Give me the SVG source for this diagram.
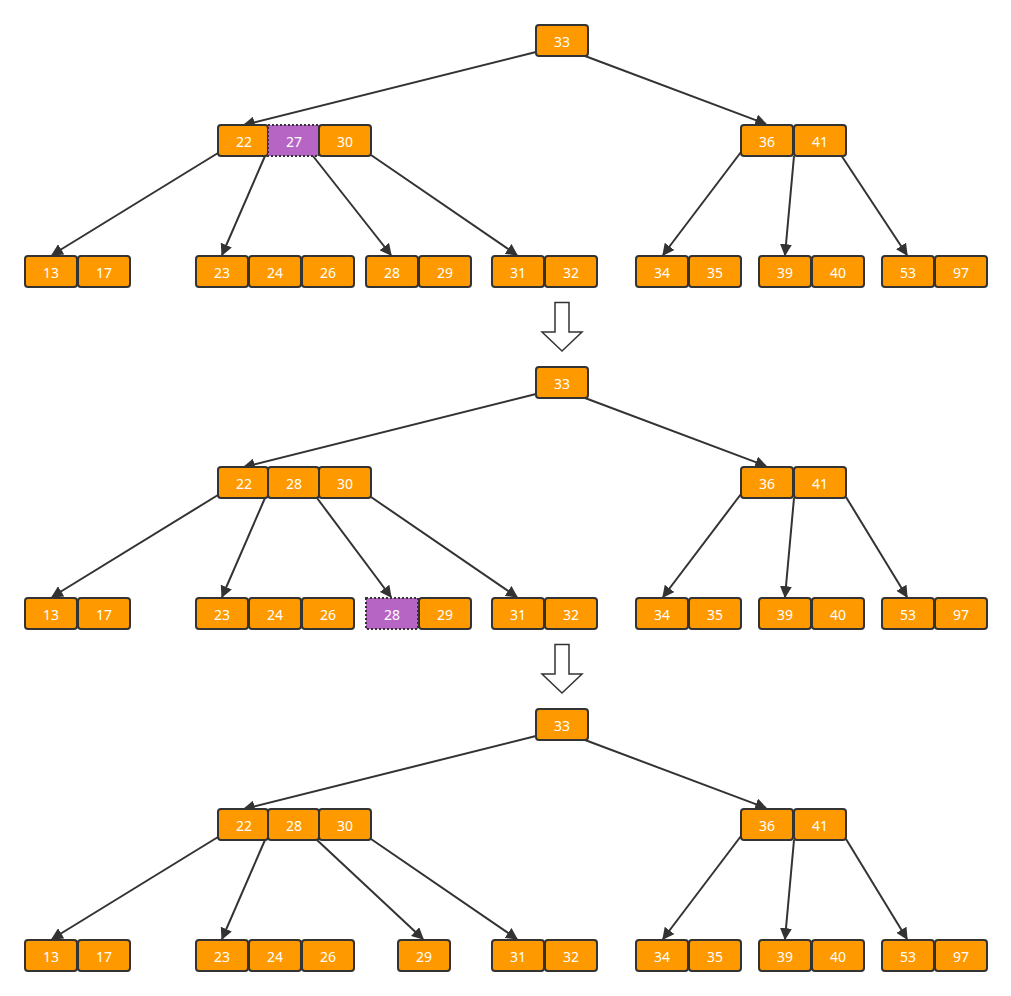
<svg xmlns="http://www.w3.org/2000/svg" width="1011" height="996" viewBox="0 0 1011 996">
<style>
.b{fill:#ff9900;stroke:#333;stroke-width:2}
.p{fill:#b665c4;stroke:#333;stroke-width:2;stroke-dasharray:2 2}
.t{fill:#fff;font-family:"Noto Sans","Liberation Sans",sans-serif;font-size:14px;text-anchor:middle;dominant-baseline:central}
.e{stroke:#333;stroke-width:2;fill:none;marker-end:url(#a)}
.h{fill:#fff;stroke:#333;stroke-width:1.5}
</style>
<defs>
<marker id="a" viewBox="0 0 10 10" refX="9" refY="5" markerWidth="6" markerHeight="6" orient="auto" markerUnits="strokeWidth">
<path d="M0,0 L10,5 L0,10 z" fill="#333"/>
</marker>
</defs>
<rect width="1011" height="996" fill="#fff"/>
<g id="connectors">
<g id="c1">
<line class="e" x1="536" y1="52" x2="244" y2="125"/>
<line class="e" x1="585" y1="56" x2="766" y2="124"/>
<line class="e" x1="218" y1="153" x2="52" y2="255"/>
<line class="e" x1="265" y1="156" x2="222" y2="255"/>
<line class="e" x1="313" y1="156" x2="391" y2="255"/>
<line class="e" x1="371" y1="155" x2="517" y2="255"/>
<line class="e" x1="741" y1="152" x2="663" y2="255"/>
<line class="e" x1="794" y1="156" x2="785" y2="255"/>
<line class="e" x1="841" y1="155" x2="907" y2="255"/>
</g>
<g id="c2">
<line class="e" x1="536" y1="394" x2="244" y2="467"/>
<line class="e" x1="585" y1="398" x2="766" y2="466"/>
<line class="e" x1="218" y1="495" x2="52" y2="597"/>
<line class="e" x1="265" y1="498" x2="222" y2="597"/>
<line class="e" x1="317" y1="498" x2="391" y2="597"/>
<line class="e" x1="371" y1="497" x2="517" y2="597"/>
<line class="e" x1="741" y1="494" x2="663" y2="597"/>
<line class="e" x1="794" y1="498" x2="785" y2="597"/>
<line class="e" x1="846" y1="497" x2="907" y2="597"/>
</g>
<g id="c3">
<line class="e" x1="536" y1="736" x2="244" y2="809"/>
<line class="e" x1="585" y1="740" x2="766" y2="808"/>
<line class="e" x1="218" y1="837" x2="52" y2="939"/>
<line class="e" x1="265" y1="840" x2="222" y2="939"/>
<line class="e" x1="317" y1="840" x2="423" y2="939"/>
<line class="e" x1="371" y1="839" x2="517" y2="939"/>
<line class="e" x1="741" y1="836" x2="663" y2="939"/>
<line class="e" x1="794" y1="840" x2="785" y2="939"/>
<line class="e" x1="846" y1="839" x2="907" y2="939"/>
</g>
</g>
<g id="arrow1"><path class="h" d="M555,302.5 H569 V332 H582 L562,351 L542,332 H555 Z"/></g>
<g id="arrow2"><path class="h" d="M555,644.5 H569 V674 H582 L562,693 L542,674 H555 Z"/></g>

<g id="tree1">
<g id="t1-root"><rect class="b" x="536" y="25" width="52" height="31" rx="3"/><text class="t" x="562" y="41">33</text></g>
<g id="t1-n22"><rect class="b" x="218" y="125" width="50" height="31" rx="3"/><text class="t" x="244" y="141">22</text></g>
<g id="t1-n27"><rect class="p" x="268" y="125" width="51" height="31"/><text class="t" x="294" y="141">27</text></g>
<g id="t1-n30"><rect class="b" x="319" y="125" width="52" height="31" rx="3"/><text class="t" x="345" y="141">30</text></g>
<g id="t1-n36"><rect class="b" x="741" y="125" width="52" height="31" rx="3"/><text class="t" x="767" y="141">36</text></g>
<g id="t1-n41"><rect class="b" x="794" y="125" width="52" height="31" rx="3"/><text class="t" x="820" y="141">41</text></g>
<g id="t1-l13"><rect class="b" x="25" y="256" width="52" height="31" rx="3"/><text class="t" x="51" y="272">13</text></g>
<g id="t1-l17"><rect class="b" x="78" y="256" width="52" height="31" rx="3"/><text class="t" x="104" y="272">17</text></g>
<g id="t1-l23"><rect class="b" x="196" y="256" width="52" height="31" rx="3"/><text class="t" x="222" y="272">23</text></g>
<g id="t1-l24"><rect class="b" x="249" y="256" width="52" height="31" rx="3"/><text class="t" x="275" y="272">24</text></g>
<g id="t1-l26"><rect class="b" x="302" y="256" width="52" height="31" rx="3"/><text class="t" x="328" y="272">26</text></g>
<g id="t1-l28"><rect class="b" x="366" y="256" width="52" height="31" rx="3"/><text class="t" x="392" y="272">28</text></g>
<g id="t1-l29"><rect class="b" x="419" y="256" width="52" height="31" rx="3"/><text class="t" x="445" y="272">29</text></g>
<g id="t1-l31"><rect class="b" x="492" y="256" width="52" height="31" rx="3"/><text class="t" x="518" y="272">31</text></g>
<g id="t1-l32"><rect class="b" x="545" y="256" width="52" height="31" rx="3"/><text class="t" x="571" y="272">32</text></g>
<g id="t1-l34"><rect class="b" x="636" y="256" width="52" height="31" rx="3"/><text class="t" x="662" y="272">34</text></g>
<g id="t1-l35"><rect class="b" x="689" y="256" width="52" height="31" rx="3"/><text class="t" x="715" y="272">35</text></g>
<g id="t1-l39"><rect class="b" x="759" y="256" width="52" height="31" rx="3"/><text class="t" x="785" y="272">39</text></g>
<g id="t1-l40"><rect class="b" x="812" y="256" width="52" height="31" rx="3"/><text class="t" x="838" y="272">40</text></g>
<g id="t1-l53"><rect class="b" x="882" y="256" width="52" height="31" rx="3"/><text class="t" x="908" y="272">53</text></g>
<g id="t1-l97"><rect class="b" x="935" y="256" width="52" height="31" rx="3"/><text class="t" x="961" y="272">97</text></g>
</g>

<g id="tree2">
<g id="t2-root"><rect class="b" x="536" y="367" width="52" height="31" rx="3"/><text class="t" x="562" y="383">33</text></g>
<g id="t2-n22"><rect class="b" x="218" y="467" width="50" height="31" rx="3"/><text class="t" x="244" y="483">22</text></g>
<g id="t2-n28"><rect class="b" x="268" y="467" width="51" height="31" rx="3"/><text class="t" x="294" y="483">28</text></g>
<g id="t2-n30"><rect class="b" x="319" y="467" width="52" height="31" rx="3"/><text class="t" x="345" y="483">30</text></g>
<g id="t2-n36"><rect class="b" x="741" y="467" width="52" height="31" rx="3"/><text class="t" x="767" y="483">36</text></g>
<g id="t2-n41"><rect class="b" x="794" y="467" width="52" height="31" rx="3"/><text class="t" x="820" y="483">41</text></g>
<g id="t2-l13"><rect class="b" x="25" y="598" width="52" height="31" rx="3"/><text class="t" x="51" y="614">13</text></g>
<g id="t2-l17"><rect class="b" x="78" y="598" width="52" height="31" rx="3"/><text class="t" x="104" y="614">17</text></g>
<g id="t2-l23"><rect class="b" x="196" y="598" width="52" height="31" rx="3"/><text class="t" x="222" y="614">23</text></g>
<g id="t2-l24"><rect class="b" x="249" y="598" width="52" height="31" rx="3"/><text class="t" x="275" y="614">24</text></g>
<g id="t2-l26"><rect class="b" x="302" y="598" width="52" height="31" rx="3"/><text class="t" x="328" y="614">26</text></g>
<g id="t2-l28"><rect class="p" x="366" y="598" width="52" height="31"/><text class="t" x="392" y="614">28</text></g>
<g id="t2-l29"><rect class="b" x="419" y="598" width="52" height="31" rx="3"/><text class="t" x="445" y="614">29</text></g>
<g id="t2-l31"><rect class="b" x="492" y="598" width="52" height="31" rx="3"/><text class="t" x="518" y="614">31</text></g>
<g id="t2-l32"><rect class="b" x="545" y="598" width="52" height="31" rx="3"/><text class="t" x="571" y="614">32</text></g>
<g id="t2-l34"><rect class="b" x="636" y="598" width="52" height="31" rx="3"/><text class="t" x="662" y="614">34</text></g>
<g id="t2-l35"><rect class="b" x="689" y="598" width="52" height="31" rx="3"/><text class="t" x="715" y="614">35</text></g>
<g id="t2-l39"><rect class="b" x="759" y="598" width="52" height="31" rx="3"/><text class="t" x="785" y="614">39</text></g>
<g id="t2-l40"><rect class="b" x="812" y="598" width="52" height="31" rx="3"/><text class="t" x="838" y="614">40</text></g>
<g id="t2-l53"><rect class="b" x="882" y="598" width="52" height="31" rx="3"/><text class="t" x="908" y="614">53</text></g>
<g id="t2-l97"><rect class="b" x="935" y="598" width="52" height="31" rx="3"/><text class="t" x="961" y="614">97</text></g>
</g>

<g id="tree3">
<g id="t3-root"><rect class="b" x="536" y="709" width="52" height="31" rx="3"/><text class="t" x="562" y="725">33</text></g>
<g id="t3-n22"><rect class="b" x="218" y="809" width="50" height="31" rx="3"/><text class="t" x="244" y="825">22</text></g>
<g id="t3-n28"><rect class="b" x="268" y="809" width="51" height="31" rx="3"/><text class="t" x="294" y="825">28</text></g>
<g id="t3-n30"><rect class="b" x="319" y="809" width="52" height="31" rx="3"/><text class="t" x="345" y="825">30</text></g>
<g id="t3-n36"><rect class="b" x="741" y="809" width="52" height="31" rx="3"/><text class="t" x="767" y="825">36</text></g>
<g id="t3-n41"><rect class="b" x="794" y="809" width="52" height="31" rx="3"/><text class="t" x="820" y="825">41</text></g>
<g id="t3-l13"><rect class="b" x="25" y="940" width="52" height="31" rx="3"/><text class="t" x="51" y="956">13</text></g>
<g id="t3-l17"><rect class="b" x="78" y="940" width="52" height="31" rx="3"/><text class="t" x="104" y="956">17</text></g>
<g id="t3-l23"><rect class="b" x="196" y="940" width="52" height="31" rx="3"/><text class="t" x="222" y="956">23</text></g>
<g id="t3-l24"><rect class="b" x="249" y="940" width="52" height="31" rx="3"/><text class="t" x="275" y="956">24</text></g>
<g id="t3-l26"><rect class="b" x="302" y="940" width="52" height="31" rx="3"/><text class="t" x="328" y="956">26</text></g>
<g id="t3-l29"><rect class="b" x="398" y="940" width="52" height="31" rx="3"/><text class="t" x="424" y="956">29</text></g>
<g id="t3-l31"><rect class="b" x="492" y="940" width="52" height="31" rx="3"/><text class="t" x="518" y="956">31</text></g>
<g id="t3-l32"><rect class="b" x="545" y="940" width="52" height="31" rx="3"/><text class="t" x="571" y="956">32</text></g>
<g id="t3-l34"><rect class="b" x="636" y="940" width="52" height="31" rx="3"/><text class="t" x="662" y="956">34</text></g>
<g id="t3-l35"><rect class="b" x="689" y="940" width="52" height="31" rx="3"/><text class="t" x="715" y="956">35</text></g>
<g id="t3-l39"><rect class="b" x="759" y="940" width="52" height="31" rx="3"/><text class="t" x="785" y="956">39</text></g>
<g id="t3-l40"><rect class="b" x="812" y="940" width="52" height="31" rx="3"/><text class="t" x="838" y="956">40</text></g>
<g id="t3-l53"><rect class="b" x="882" y="940" width="52" height="31" rx="3"/><text class="t" x="908" y="956">53</text></g>
<g id="t3-l97"><rect class="b" x="935" y="940" width="52" height="31" rx="3"/><text class="t" x="961" y="956">97</text></g>
</g>
</svg>
